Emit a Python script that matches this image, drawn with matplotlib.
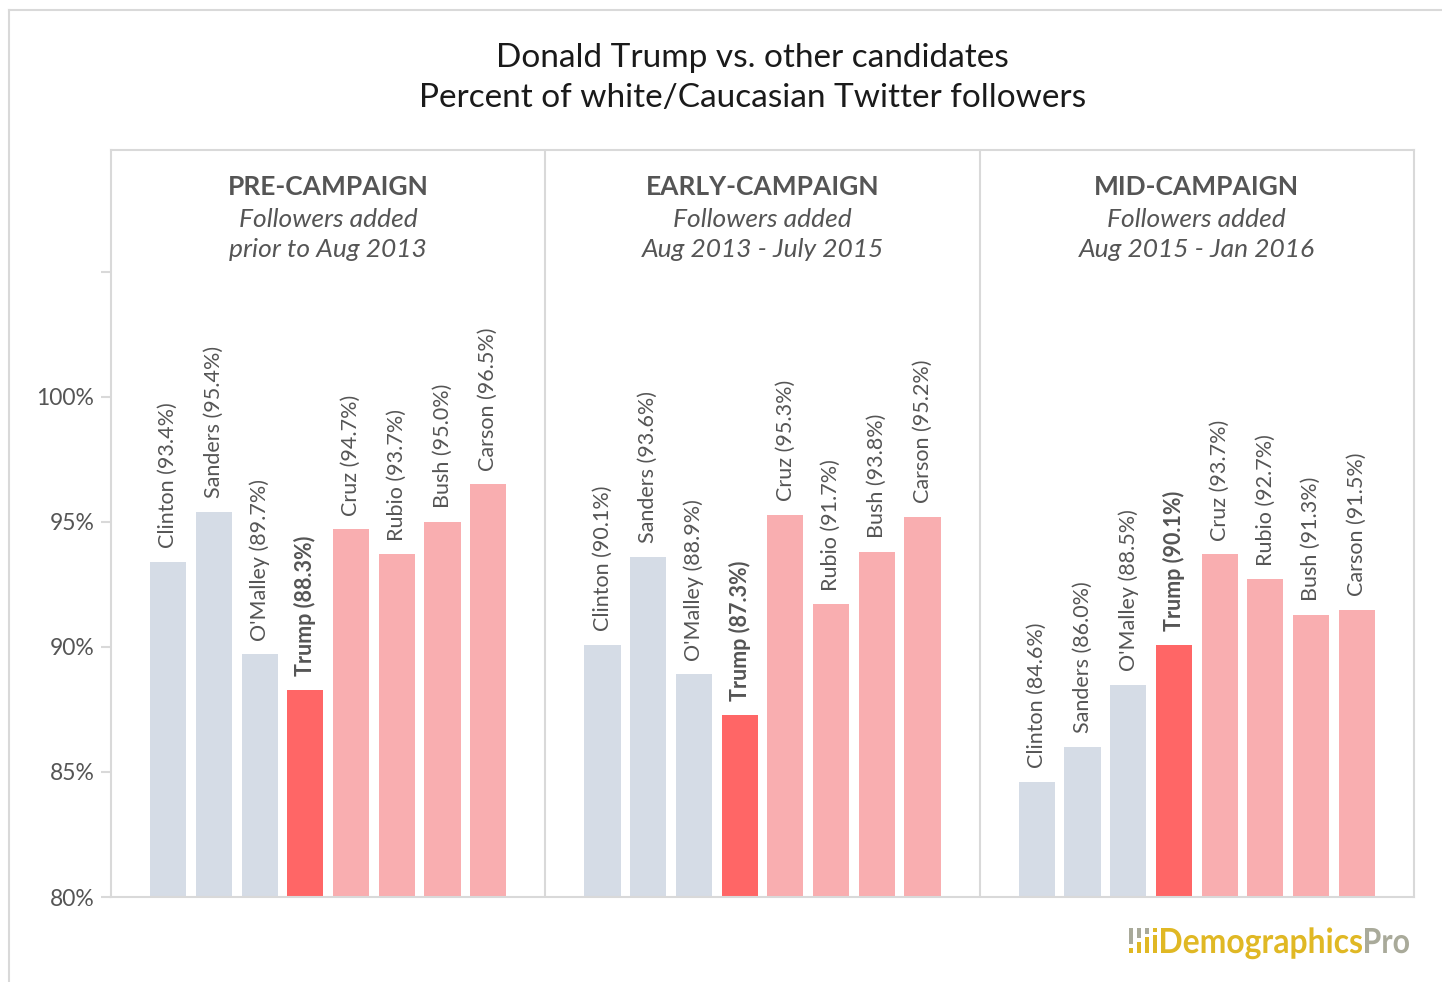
import matplotlib.pyplot as plt
from matplotlib.patches import Rectangle, PathPatch
from matplotlib.lines import Line2D
from matplotlib.textpath import TextPath
from matplotlib.font_manager import FontProperties
from matplotlib.transforms import Affine2D

plt.rcParams['font.family'] = ['Lato', 'DejaVu Sans']

candidates = ['Clinton', 'Sanders', "O'Malley", 'Trump', 'Cruz', 'Rubio', 'Bush', 'Carson']
pre_campaign = [93.4, 95.4, 89.7, 88.3, 94.7, 93.7, 95.0, 96.5]
early_campaign = [90.1, 93.6, 88.9, 87.3, 95.3, 91.7, 93.8, 95.2]
mid_campaign = [84.6, 86.0, 88.5, 90.1, 93.7, 92.7, 91.3, 91.5]

phases = ['PRE-CAMPAIGN', 'EARLY-CAMPAIGN', 'MID-CAMPAIGN']
phase_ranges = ['prior to Aug 2013', 'Aug 2013 - July 2015', 'Aug 2015 - Jan 2016']
phase_values = [pre_campaign, early_campaign, mid_campaign]

yticks = [80, 85, 90, 95, 100, 105]
ytick_labels = ['80%', '85%', '90%', '95%', '100%', '']

DEM = '#D5DCE6'
REP = '#F9AEB0'
TRUMP = '#FF6666'
TEXT = '#555555'
GRID = '#D9D9D9'

party_color = [DEM, DEM, DEM, TRUMP, REP, REP, REP, REP]

panel_w = 9.5
offset = 1.25

W, H = 1442, 982
fig = plt.figure(figsize=(W / 100, H / 100), dpi=100)
ax = fig.add_axes([111 / W, 1 - 897 / H, (1414 - 111) / W, (897 - 150) / H])

for p, vals in enumerate(phase_values):
    x0 = p * panel_w + offset
    xs = [x0 + i for i in range(len(vals))]
    ax.bar(xs, [v - 80 for v in vals], bottom=80, width=0.79,
           color=party_color, linewidth=0, zorder=2)
    for x, name, v in zip(xs, candidates, vals):
        ax.text(x, v + 0.55, f'{name} ({v:.1f}%)', rotation=90, ha='center', va='bottom',
                fontsize=15.5, color=TEXT,
                fontweight='bold' if name == 'Trump' else 'normal')
    cx = p * panel_w + panel_w / 2
    ax.text(cx, 108.4, phases[p], ha='center', va='center', fontsize=19,
            fontweight='bold', color=TEXT)
    ax.text(cx, 107.1, 'Followers added', ha='center', va='center', fontsize=19,
            style='italic', color=TEXT)
    ax.text(cx, 105.9, phase_ranges[p], ha='center', va='center', fontsize=19,
            style='italic', color=TEXT)
    if p > 0:
        ax.axvline(p * panel_w, color=GRID, linewidth=1.5, zorder=1)

ax.set_xlim(0, 3 * panel_w)
ax.set_ylim(80, 109.88)
ax.set_xticks([])
ax.set_yticks(yticks)
ax.set_yticklabels(ytick_labels)
ax.tick_params(axis='y', length=7, width=1.5, color=GRID, labelcolor=TEXT,
               labelsize=16.5, pad=5)
for s in ax.spines.values():
    s.set_color(GRID)
    s.set_linewidth(1.5)

fig.text(0.522, 1 - 58 / H, 'Donald Trump vs. other candidates', ha='center', va='center',
         fontsize=24, color='#1a1a1a')
fig.text(0.522, 1 - 98 / H, 'Percent of white/Caucasian Twitter followers', ha='center',
         va='center', fontsize=24, color='#1a1a1a')

# outer frame lines
fig.add_artist(Line2D([9 / W, 9 / W], [0, 1 - 10 / H], color=GRID, linewidth=1.5))
fig.add_artist(Line2D([9 / W, 1], [1 - 10 / H, 1 - 10 / H], color=GRID, linewidth=1.5))

# logo: bar icon plus horizontally squeezed word mark
GOLD = '#E0B824'
GREY = '#A9AA9A'
icon = [(1129, 928, 4, 16, GREY), (1129, 948, 4, 5, GOLD),
        (1137, 928, 4, 10, GREY), (1137, 942, 4, 11, GOLD),
        (1145, 928, 4, 6, GREY), (1145, 937, 4, 16, GOLD),
        (1153, 928, 4, 4, GOLD), (1153, 935, 4, 18, GOLD)]
for x, y, w, h, c in icon:
    fig.add_artist(Rectangle((x / W, 1 - (y + h) / H), w / W, h / H,
                             color=c, linewidth=0, transform=fig.transFigure))


def word_mark(text, left, right, baseline, cap, color):
    prop = FontProperties(family='Lato', weight='bold')
    path = TextPath((0, 0), text, size=100, prop=prop)
    ext = path.get_extents()
    cap_h = TextPath((0, 0), 'D', size=100, prop=prop).get_extents().y1
    sx = (right - left) / ext.width
    sy = cap / cap_h
    tr = (Affine2D().translate(-ext.x0, 0).scale(sx / W, sy / H)
          .translate(left / W, 1 - baseline / H) + fig.transFigure)
    fig.add_artist(PathPatch(path, facecolor=color, edgecolor='none', transform=tr))


word_mark('Demographics', 1161, 1362, 953, 25, GOLD)
word_mark('Pro', 1365, 1409, 953, 25, GREY)

fig.savefig('out.png', dpi=100, facecolor='white')
